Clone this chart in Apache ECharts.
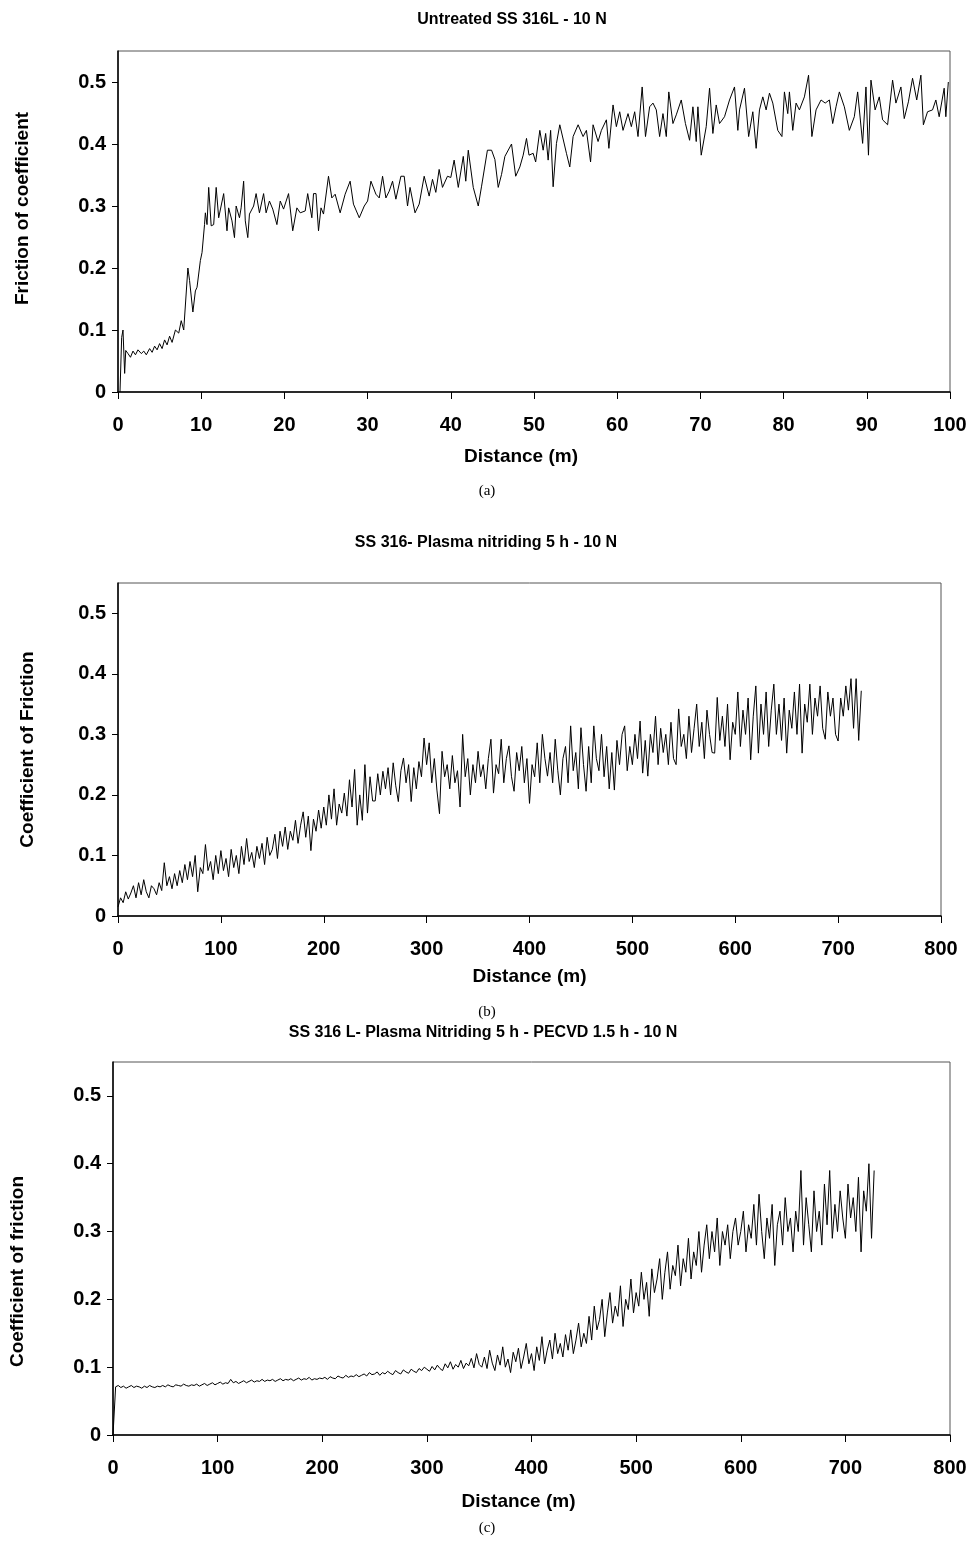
<!DOCTYPE html>
<html>
<head>
<meta charset="utf-8">
<script src="https://cdn.jsdelivr.net/npm/echarts@6/dist/echarts.min.js"></script>
<style>
html,body{margin:0;padding:0;background:#fff;}
#chart{width:971px;height:1547px;}
</style>
</head>
<body>
<div id="chart"></div>
<script>
// ---- Chart (a): Untreated SS 316L - 10 N ----
var distA = [0.24,0.44,0.6,0.8,0.93,1.2,1.5,1.8,2.1,2.4,2.8,3.1,3.4,3.8,4.1,4.4,4.7,5.0,5.3,5.6,5.9,6.2,6.5,6.9,7.3,7.6,7.9,8.1,
8.4,8.6,9.0,9.3,9.5,9.7,9.9,10.1,10.4,10.5,10.7,10.9,11.2,11.5,11.8,12.1,12.3,12.7,13.1,13.3,13.7,14.0,14.2,14.6,14.8,15.1,15.3,15.6,15.8,16.3,16.6,17.0,17.5,17.8,18.2,18.6,19.1,19.5,19.9,
20.5,21.0,21.5,21.9,22.5,22.8,23.3,23.5,23.8,24.1,24.4,24.7,25.3,25.7,26.1,26.7,27.3,27.9,28.3,29.0,29.6,30.0,30.4,31.0,31.4,31.8,32.2,32.6,33.0,33.4,34.0,34.4,34.8,35.1,35.7,36.2,36.8,37.4,37.8,38.2,38.6,39.0,39.6,
40.0,40.4,40.9,41.5,41.8,42.1,42.7,43.3,43.7,44.4,44.9,45.3,45.7,46.1,46.5,47.3,47.8,
48.3,48.7,49.1,49.4,49.9,50.2,50.7,51.1,51.4,51.7,52.0,52.3,52.7,53.1,53.9,54.3,54.7,55.3,55.9,56.3,56.8,57.1,57.7,58.1,58.7,59.0,59.5,59.9,
60.3,60.7,61.3,61.7,62.1,62.5,63.0,63.4,63.9,64.3,64.7,65.1,65.5,65.9,66.2,66.7,67.1,67.7,68.2,68.7,69.1,69.5,69.7,
70.1,70.7,71.1,71.5,71.9,72.3,72.9,73.5,74.1,74.5,74.7,75.3,75.8,76.3,76.7,77.1,77.5,77.9,78.3,78.7,79.3,79.8,
80.1,80.5,80.7,81.1,81.5,81.9,82.5,83.0,83.4,83.9,84.5,85.0,85.5,85.9,86.3,86.7,87.3,87.9,88.5,88.9,89.5,89.9,
90.2,90.5,91.0,91.5,91.9,92.5,93.1,93.5,94.1,94.5,95.0,95.5,96.0,96.5,96.8,97.3,97.9,98.3,98.7,99.3,99.5,99.8];
var cofA = [0,0.088,0.1,0.03,0.067,0.062,0.056,0.066,0.06,0.068,0.062,0.066,0.06,0.07,0.064,0.074,0.068,0.078,0.07,0.084,0.076,0.09,0.08,0.1,0.095,0.115,0.1,0.098,
0.2,0.18,0.129,0.163,0.169,0.169,0.212,0.225,0.27,0.289,0.27,0.33,0.268,0.27,0.33,0.281,0.281,0.32,0.26,0.297,0.276,0.249,0.3,0.281,0.297,0.34,0.276,0.249,0.287,0.3,0.32,0.289,0.32,0.289,0.308,0.295,0.27,0.308,0.295,
0.32,0.26,0.297,0.289,0.292,0.32,0.281,0.32,0.32,0.26,0.297,0.287,0.348,0.313,0.319,0.289,0.319,0.34,0.303,0.281,0.3,0.308,0.34,0.319,0.313,0.348,0.313,0.324,0.34,0.311,0.348,0.348,0.3,0.33,0.289,0.303,0.348,0.316,0.343,0.322,0.359,0.33,0.348,
0.346,0.374,0.33,0.38,0.34,0.39,0.33,0.3,0.332,0.39,0.39,0.375,0.33,0.351,0.38,0.4,0.348,
0.363,0.382,0.409,0.382,0.385,0.371,0.422,0.39,0.417,0.374,0.422,0.331,0.401,0.431,0.385,0.363,0.412,0.431,0.412,0.422,0.371,0.431,0.404,0.422,0.439,0.393,0.463,0.428,
0.452,0.422,0.449,0.428,0.452,0.412,0.492,0.412,0.46,0.466,0.455,0.412,0.449,0.412,0.484,0.433,0.447,0.471,0.433,0.406,0.46,0.404,0.46,
0.382,0.428,0.49,0.417,0.463,0.433,0.444,0.471,0.492,0.422,0.455,0.49,0.412,0.452,0.393,0.455,0.476,0.455,0.482,0.466,0.422,0.412,
0.484,0.449,0.484,0.422,0.466,0.455,0.476,0.511,0.412,0.455,0.471,0.466,0.471,0.433,0.46,0.484,0.46,0.422,0.444,0.484,0.401,0.492,
0.382,0.503,0.455,0.476,0.439,0.431,0.503,0.466,0.492,0.441,0.468,0.506,0.471,0.511,0.431,0.452,0.455,0.471,0.444,0.49,0.444,0.5];

// ---- Chart (b): SS 316 - Plasma nitriding 5 h - 10 N (sampled every 2.5 m from 0) ----
var stepB = 2.5;
var cofB = [
0.015,0.03,0.022,0.04,0.028,0.038,0.05,0.03,0.055,0.035,0.06,0.04,0.03,0.05,0.045,0.035,0.055,0.042,0.088,0.05,
0.065,0.045,0.07,0.05,0.075,0.055,0.085,0.06,0.09,0.065,0.1,0.04,0.08,0.07,0.118,0.075,0.09,0.06,0.1,0.07,
0.108,0.075,0.095,0.065,0.11,0.08,0.1,0.07,0.115,0.085,0.128,0.09,0.105,0.08,0.115,0.095,0.12,0.085,0.13,0.1,
0.11,0.135,0.095,0.14,0.115,0.147,0.11,0.14,0.125,0.158,0.12,0.15,0.172,0.13,0.165,0.108,0.16,0.14,0.175,0.145,
0.18,0.15,0.2,0.16,0.21,0.15,0.185,0.17,0.203,0.165,0.225,0.18,0.242,0.15,0.2,0.158,0.25,0.17,0.23,0.19,
0.19,0.235,0.2,0.239,0.21,0.245,0.2,0.253,0.215,0.189,0.24,0.261,0.22,0.25,0.189,0.245,0.21,0.255,0.23,0.294,
0.25,0.286,0.22,0.26,0.208,0.169,0.272,0.23,0.25,0.21,0.265,0.22,0.24,0.18,0.3,0.23,0.26,0.2,0.25,0.22,
0.272,0.23,0.25,0.21,0.26,0.292,0.203,0.25,0.235,0.292,0.22,0.26,0.281,0.23,0.206,0.27,0.24,0.28,0.22,0.26,
0.186,0.25,0.23,0.286,0.22,0.3,0.26,0.231,0.27,0.22,0.292,0.24,0.2,0.26,0.28,0.22,0.314,0.24,0.27,0.21,
0.311,0.25,0.206,0.28,0.22,0.314,0.26,0.24,0.3,0.23,0.28,0.21,0.27,0.208,0.29,0.25,0.3,0.314,0.24,0.28,
0.25,0.3,0.26,0.322,0.236,0.29,0.231,0.3,0.27,0.33,0.25,0.31,0.27,0.3,0.25,0.32,0.26,0.25,0.342,0.28,
0.3,0.26,0.33,0.27,0.31,0.35,0.28,0.32,0.26,0.34,0.3,0.27,0.269,0.361,0.29,0.33,0.28,0.35,0.258,0.32,
0.3,0.37,0.28,0.34,0.3,0.36,0.258,0.33,0.38,0.269,0.35,0.3,0.37,0.28,0.34,0.383,0.3,0.35,0.29,0.36,
0.269,0.34,0.31,0.37,0.3,0.383,0.269,0.35,0.32,0.383,0.3,0.36,0.33,0.38,0.31,0.292,0.37,0.33,0.36,0.3,
0.289,0.36,0.33,0.38,0.34,0.392,0.31,0.392,0.29,0.372];

// ---- Chart (c): SS 316 L - Plasma Nitriding 5 h - PECVD 1.5 h - 10 N (sampled every 2.5 m from 0) ----
var stepC = 2.5;
var cofC = [
0,0.071,0.073,0.07,0.072,0.069,0.071,0.073,0.07,0.072,0.071,0.069,0.072,0.07,0.073,0.071,0.07,0.072,0.071,0.073,
0.071,0.074,0.072,0.071,0.074,0.073,0.072,0.075,0.073,0.072,0.074,0.073,0.075,0.072,0.074,0.076,0.073,0.075,0.077,0.074,
0.076,0.078,0.075,0.077,0.076,0.082,0.077,0.079,0.076,0.078,0.08,0.077,0.079,0.081,0.078,0.08,0.079,0.082,0.079,0.081,
0.08,0.082,0.079,0.081,0.083,0.08,0.082,0.081,0.083,0.08,0.082,0.084,0.081,0.083,0.082,0.085,0.081,0.083,0.082,0.084,
0.083,0.085,0.082,0.086,0.084,0.083,0.087,0.085,0.084,0.088,0.085,0.087,0.086,0.089,0.086,0.088,0.09,0.087,0.092,0.089,
0.09,0.093,0.088,0.092,0.09,0.094,0.091,0.089,0.095,0.092,0.09,0.096,0.093,0.091,0.097,0.094,0.092,0.098,0.095,0.1,
0.097,0.094,0.101,0.096,0.103,0.098,0.095,0.105,0.099,0.108,0.097,0.104,0.1,0.11,0.098,0.106,0.102,0.113,0.099,0.12,
0.104,0.1,0.115,0.098,0.125,0.106,0.095,0.118,0.103,0.13,0.1,0.112,0.092,0.122,0.108,0.128,0.098,0.115,0.135,0.105,
0.12,0.095,0.13,0.11,0.145,0.105,0.125,0.14,0.112,0.15,0.12,0.135,0.115,0.148,0.125,0.155,0.12,0.14,0.165,0.13,
0.15,0.135,0.175,0.14,0.19,0.155,0.17,0.2,0.145,0.18,0.21,0.165,0.19,0.175,0.22,0.16,0.2,0.185,0.23,0.18,
0.21,0.19,0.24,0.2,0.225,0.175,0.245,0.21,0.23,0.26,0.2,0.24,0.27,0.215,0.25,0.235,0.28,0.22,0.26,0.24,
0.29,0.23,0.27,0.25,0.3,0.24,0.28,0.31,0.26,0.3,0.27,0.32,0.25,0.3,0.28,0.31,0.26,0.3,0.32,0.28,
0.3,0.33,0.27,0.31,0.29,0.34,0.28,0.355,0.3,0.26,0.32,0.29,0.34,0.25,0.31,0.33,0.28,0.35,0.3,0.32,
0.27,0.33,0.3,0.39,0.28,0.35,0.31,0.27,0.36,0.3,0.33,0.28,0.37,0.31,0.39,0.29,0.34,0.3,0.36,0.32,
0.29,0.37,0.32,0.35,0.3,0.38,0.27,0.36,0.33,0.4,0.29,0.39];

var yTicks = [0, 0.1, 0.2, 0.3, 0.4, 0.5];
var titles = ['Untreated SS 316L - 10 N', 'SS 316- Plasma nitriding 5 h - 10 N', 'SS 316 L- Plasma Nitriding 5 h - PECVD 1.5 h - 10 N'];
var yNames = ['Friction of coefficient', 'Coefficient of Friction', 'Coefficient of friction'];
var xName = 'Distance (m)';
var captions = ['(a)', '(b)', '(c)'];

function pairsXY(xs, ys) { return xs.map(function (x, i) { return [x, ys[i]]; }); }
function pairsStep(ys, step) { return ys.map(function (y, i) { return [i * step, y]; }); }

var FONT = '"Liberation Sans", Arial, Helvetica, sans-serif';
var grids = [
  {left: 118, top: 51, width: 832, height: 341},
  {left: 118, top: 583, width: 823, height: 333},
  {left: 106, top: 1062, width: 844, height: 373}
];
var xMax = [100, 800, 800];
var xInt = [10, 100, 100];
var yGap = [86, 81, 86];
var xGap = [55, 51, 57];
var yPad = [[0, 0, 0, 26], [0, 0, 0, 0], [0, 0, 0, -46]];
var xPad = [[0, 26, 0, 0], [0, 0, 0, 0], [0, 26, 0, 0]];

var labelStyle = {color: '#000', fontFamily: FONT, fontWeight: 'bold', fontSize: 20};
var xAxes = [], yAxes = [];
for (var k = 0; k < 3; k++) {
  xAxes.push({
    gridIndex: k, type: 'value', min: 0, max: xMax[k], interval: xInt[k],
    name: xName, nameLocation: 'middle', nameGap: xGap[k],
    nameTextStyle: {color: '#000', fontFamily: FONT, fontWeight: 'bold', fontSize: 19, padding: xPad[k]},
    axisLine: {show: true, lineStyle: {color: '#000', width: 1.5}},
    axisTick: {show: true, inside: false, length: 7, lineStyle: {color: '#000'}},
    axisLabel: Object.assign({margin: 23}, labelStyle),
    splitLine: {show: false}
  });
  yAxes.push({
    gridIndex: k, type: 'value', min: 0, max: 0.55,
    name: yNames[k], nameLocation: 'middle', nameGap: yGap[k],
    nameTextStyle: {color: '#000', fontFamily: FONT, fontWeight: 'bold', fontSize: 19, padding: yPad[k]},
    axisLine: {show: true, lineStyle: {color: '#000', width: 1.5}},
    axisTick: {show: true, inside: false, length: 6, lineStyle: {color: '#000'}, customValues: yTicks},
    axisLabel: Object.assign({margin: 12, customValues: yTicks}, labelStyle),
    splitLine: {show: false}
  });
}

var lineSeries = function (k, data) {
  return {type: 'line', xAxisIndex: k, yAxisIndex: k, data: data, showSymbol: false, symbol: 'none',
    lineStyle: {color: '#000', width: 1}, animation: false, silent: true};
};

var titleY = [20, 543, 1033];
var titleX = [512, 486, 483];
var capY = [491, 1012, 1528];
var graphics = [];
for (var t = 0; t < 3; t++) {
  graphics.push({type: 'text', x: titleX[t], y: titleY[t], silent: true,
    style: {text: titles[t], textAlign: 'center', textVerticalAlign: 'middle',
      font: 'bold 16px ' + FONT, fill: '#000'}});
  graphics.push({type: 'text', x: 487, y: capY[t], silent: true,
    style: {text: captions[t], textAlign: 'center', textVerticalAlign: 'middle',
      font: '15px "Liberation Serif", "Times New Roman", serif', fill: '#000'}});
}

var chart = echarts.init(document.getElementById('chart'), null, {renderer: 'canvas'});
chart.setOption({
  backgroundColor: '#fff',
  animation: false,
  grid: grids.map(function (g) { return Object.assign({show: true, borderColor: '#555', borderWidth: 1, backgroundColor: 'transparent'}, g); }),
  xAxis: xAxes,
  yAxis: yAxes,
  series: [lineSeries(0, pairsXY(distA, cofA)), lineSeries(1, pairsStep(cofB, stepB)), lineSeries(2, pairsStep(cofC, stepC))],
  graphic: graphics
});
</script>
</body>
</html>
